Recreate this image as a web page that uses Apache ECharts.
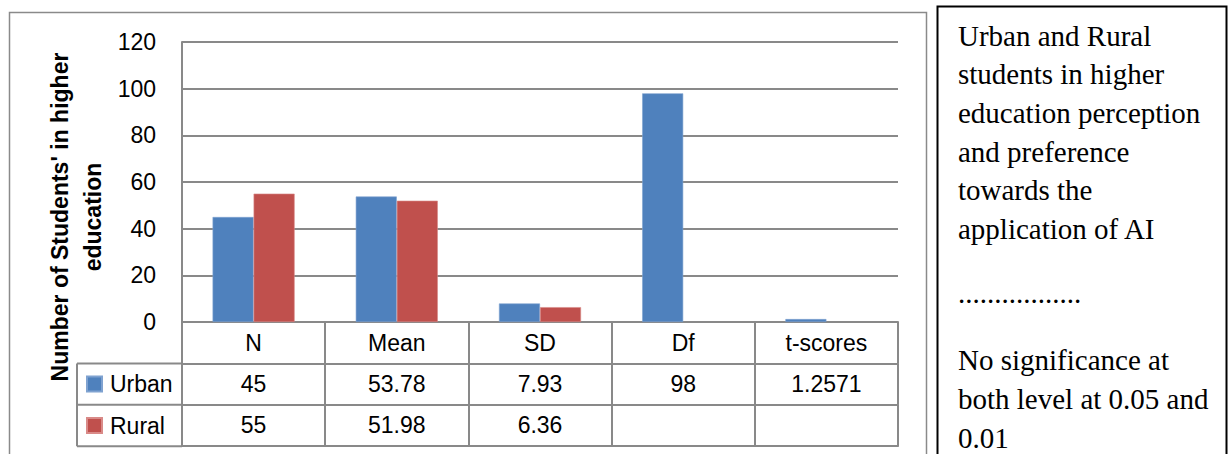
<!DOCTYPE html>
<html>
<head>
<meta charset="utf-8">
<script src="https://cdn.jsdelivr.net/npm/echarts@6/dist/echarts.min.js"></script>
<style>
  html, body { margin: 0; padding: 0; background: #ffffff; }
  #chart { width: 1229px; height: 454px; }
</style>
</head>
<body>
<div id="chart"></div>
<script>
// ---- data ----
const categories = ['N', 'Mean', 'SD', 'Df', 't-scores'];
const urbanValues = [45, 53.78, 7.93, 98, 1.2571];
const ruralValues = [55, 51.98, 6.36, null, null];
const seriesNames = ['Urban', 'Rural'];
const yTicks = { min: 0, max: 120, interval: 20 };
const yAxisTitle = "Number of Students' in higher\neducation";
const notePara1 = "Urban and Rural\nstudents in higher\neducation perception\nand preference\ntowards the\napplication of AI";
const notePara2 = ".................";
const notePara3 = "No significance at\nboth level at 0.05 and\n0.01";

// ---- layout ----
const W = 1229, H = 454;
const G = { left: 182, top: 42, width: 716, height: 280 };
const rowH = 41.4;
const legendColLeft = 77;
const gridColor = '#898989';
const font = "'Liberation Sans', Arial, sans-serif";
const serif = "'Liberation Serif', 'Times New Roman', serif";
const fontSize = 23;

const urbanLabels = urbanValues.map(v => v == null ? '' : String(v));
const ruralLabels = ruralValues.map(v => v == null ? '' : String(v));

const gBottom = G.top + G.height;

function tableAxis(data, offset, showTicks) {
  return {
    type: 'category',
    data: data,
    gridIndex: 0,
    position: 'bottom',
    offset: offset,
    boundaryGap: true,
    axisLine: { show: true, lineStyle: { color: gridColor, width: 2 } },
    axisTick: { show: showTicks, interval: 0, length: rowH, lineStyle: { color: gridColor, width: 2 } },
    axisLabel: {
      show: true, interval: 0, margin: 9,
      color: '#000', fontFamily: font, fontSize: fontSize, lineHeight: 23
    },
    splitLine: { show: false }
  };
}

function noteText(text, y) {
  return {
    type: 'text', x: 958, y: y,
    style: {
      text: text, fontFamily: serif, fontSize: 29,
      lineHeight: 38.6, fill: '#000', align: 'left', verticalAlign: 'top'
    }
  };
}

const chart = echarts.init(document.getElementById('chart'), null, { renderer: 'svg', width: W, height: H });

const option = {
  backgroundColor: '#ffffff',
  animation: false,
  color: ['#4F81BD', '#C0504D'],
  grid: { left: G.left, top: G.top, width: G.width, height: G.height, containLabel: false },
  legend: {
    data: seriesNames,
    orient: 'vertical',
    left: 86,
    top: gBottom + rowH * 1.5 - 11.5,
    itemWidth: 15,
    itemHeight: 15,
    itemGap: rowH - 23,
    icon: 'rect',
    padding: 0,
    textStyle: { fontFamily: font, fontSize: fontSize, color: '#000', lineHeight: 23, padding: [0, 0, 0, 3] }
  },
  xAxis: [
    tableAxis(categories, 0, true),
    tableAxis(urbanLabels, rowH, true),
    tableAxis(ruralLabels, rowH * 2, true),
    Object.assign(tableAxis(categories.map(() => ''), rowH * 3, false), { axisLabel: { show: false } })
  ],
  yAxis: {
    type: 'value',
    min: yTicks.min, max: yTicks.max, interval: yTicks.interval,
    axisLine: { show: true, lineStyle: { color: gridColor, width: 2 } },
    axisTick: { show: false },
    axisLabel: { margin: 26, color: '#000', fontFamily: font, fontSize: fontSize },
    splitLine: { show: true, lineStyle: { color: gridColor, width: 2 } }
  },
  series: [
    {
      name: seriesNames[0], type: 'bar', xAxisIndex: 0, data: urbanValues,
      barGap: '0%', barCategoryGap: '42.7%',
      itemStyle: { borderColor: '#7FA2D0', borderWidth: 0.6 }
    },
    {
      name: seriesNames[1], type: 'bar', xAxisIndex: 0, data: ruralValues,
      barGap: '0%', barCategoryGap: '42.7%',
      itemStyle: { borderColor: '#D98A88', borderWidth: 0.6 }
    }
  ],
  graphic: [
    // outer chart border
    { type: 'rect', shape: { x: 9.5, y: 12.5, width: 917, height: 470 }, style: { fill: null, stroke: '#8a8a8a', lineWidth: 1.5 }, silent: true },
    // legend column of the data table
    { type: 'line', shape: { x1: legendColLeft, y1: gBottom + rowH, x2: G.left, y2: gBottom + rowH }, style: { stroke: gridColor, lineWidth: 2 } },
    { type: 'line', shape: { x1: legendColLeft, y1: gBottom + rowH * 2, x2: G.left, y2: gBottom + rowH * 2 }, style: { stroke: gridColor, lineWidth: 2 } },
    { type: 'line', shape: { x1: legendColLeft, y1: gBottom + rowH * 3, x2: G.left, y2: gBottom + rowH * 3 }, style: { stroke: gridColor, lineWidth: 2 } },
    { type: 'line', shape: { x1: legendColLeft, y1: gBottom + rowH, x2: legendColLeft, y2: gBottom + rowH * 3 }, style: { stroke: gridColor, lineWidth: 2 } },
    // y-axis title
    {
      type: 'text', x: 76.5, y: 217, rotation: Math.PI / 2,
      style: {
        text: yAxisTitle, fontFamily: font, fontSize: fontSize, fontWeight: 'bold',
        lineHeight: 33, fill: '#000', align: 'center', verticalAlign: 'middle'
      }
    },
    // side note box
    { type: 'rect', shape: { x: 937.5, y: 6.5, width: 289, height: 470 }, style: { fill: '#fff', stroke: '#000', lineWidth: 2 } },
    noteText(notePara1, 16.5),
    noteText(notePara2, 274),
    noteText(notePara3, 341)
  ]
};

chart.setOption(option);
</script>
</body>
</html>
